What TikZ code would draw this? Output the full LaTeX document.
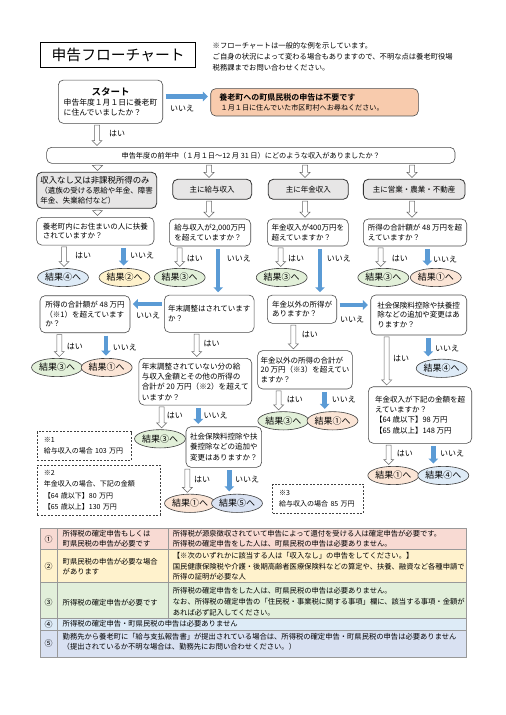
\documentclass[tikz,border=0pt]{standalone}
\usepackage{fontspec}
\setmainfont{Noto Sans CJK JP}[BoldFont={Noto Sans CJK JP Bold}]
\usetikzlibrary{shapes.geometric,arrows.meta,calc}

\definecolor{noblue}{HTML}{5B9BD5}
\definecolor{orangebox}{HTML}{F8CBAD}
\definecolor{catgray}{HTML}{E7E6E6}
\definecolor{res1}{HTML}{FBE5D6}
\definecolor{res2}{HTML}{FFF2CC}
\definecolor{res3}{HTML}{E2F0D9}
\definecolor{res4}{HTML}{DEEBF7}
\definecolor{res5}{HTML}{DAE3F3}
\definecolor{tab1}{HTML}{F8DAD3}
\definecolor{tab2}{HTML}{FFF2CC}
\definecolor{tab3}{HTML}{E2EFDA}
\definecolor{tab4}{HTML}{DDEBF7}
\definecolor{tab5}{HTML}{D9E1F2}

\newcommand\setfs[2]{\fontsize{#1pt}{#2pt}\selectfont}
\newcommand\yesarrow[2]{%
  \draw[yesarr] let \p1=(#1), \p2=(#2) in
    (\x1-2.5pt,\y1-1.5pt) -- (\x1+2.5pt,\y1-1.5pt) -- (\x1+2.5pt,\y2+6.5pt)
    -- (\x1+5pt,\y2+6.5pt) -- (\x1,\y2+1.5pt) -- (\x1-5pt,\y2+6.5pt)
    -- (\x1-2.5pt,\y2+6.5pt) -- cycle;}

\tikzset{
    qbox/.style={draw=black!70, line width=0.6pt, rounded corners=5pt, fill=white,
        align=left, inner xsep=3pt, inner ysep=0pt, font=\setfs{7.5}{9.6}},
    catbox/.style={qbox, fill=catgray, draw=black!80, line width=0.8pt},
    result/.style={ellipse, draw=black!75, line width=0.6pt, minimum width=47pt,
        minimum height=18.3pt, inner sep=0pt, font=\setfs{9}{10}},
    notebox/.style={draw=black!75, dash pattern=on 2pt off 1.5pt, line width=0.6pt,
        align=left, inner xsep=6.5pt, inner ysep=0pt, font=\setfs{7}{11.5}},
    yesarr/.style={draw=black!60, fill=white, line width=0.5pt},
    noarr/.style={draw=noblue, line width=4.5pt, -{Triangle[length=5pt,width=9.5pt]},
        shorten <=2.5pt, shorten >=2.5pt},
    lbl/.style={anchor=west, inner sep=0pt, font=\setfs{8}{9}},
    tline/.style={draw=black!40, line width=0.5pt},
    tcell/.style={anchor=west, inner sep=0pt, align=left, font=\setfs{7.3}{10}},
    tnum/.style={inner sep=0pt, font=\setfs{8}{9}},
}

\begin{document}
\begin{tikzpicture}[x=1pt, y=-1pt]
        \useasboundingbox (0,0) rectangle (506,715);

        \node[draw, line width=0.8pt, minimum width=155pt, minimum height=25.4pt, inner sep=0pt,
            font=\setfs{14.8}{16}] (title) at (118.2,55) {申告フローチャート};
        \node[anchor=north west, inner sep=0pt, align=left, font=\setfs{7.3}{11}] (note) at (212.5,42.4)
            {※フローチャートは一般的な例を示しています。\\
             ご自身の状況によって変わる場合もありますので、不明な点は養老町役場\\
             税務課までお問い合わせください。};

        \node[qbox, minimum width=104.4pt, minimum height=43.3pt, font=\setfs{7.8}{10.3}] (start) at (110.5,101.7)
            {\makebox[93.6pt]{\bfseries\setfs{9.5}{11}スタート}\\申告年度１月１日に養老町\\に住んでいましたか？};
        \node[qbox, fill=orangebox, text width=190.4pt, inner xsep=8.6pt, minimum height=27.3pt,
            font=\setfs{7.1}{10.5}] (orange) at (314.5,102.3)
            {{\bfseries\setfs{8}{10.5}養老町への町県民税の申告は不要です}\\\hspace{1.4pt}１月１日に住んでいた市区町村へお尋ねください。};
        \draw[noarr] ([yshift=5.2pt]start.east) -- ([yshift=5.2pt]start.east -| orange.west);
        \node[lbl] (startno) at (170,109) {いいえ};

        \node[qbox, minimum width=408.3pt, minimum height=16pt, font=\setfs{7.2}{9}] (wide) at (250.8,155.3)
            {申告年度の前年中（１月１日～12 月 31 日）にどのような収入がありましたか？};
        \yesarrow{[xshift=-13.5pt]start.south}{wide.north}
        \node[lbl] (startyes) at (109,134) {はい};

        \node[catbox, minimum width=120pt, minimum height=36pt, inner xsep=2.5pt] (cat1) at (96.7,190.3)
            {{\setfs{8.4}{10.5}収入なし又は非課税所得のみ}\\（遺族の受ける恩給や年金、障害\\年金、失業給付など）};
        \node[catbox, minimum width=79pt, minimum height=20pt] (cat2) at (212.2,189.3) {主に給与収入};
        \node[catbox, minimum width=80pt, minimum height=20pt] (cat3) at (308.3,189.3) {主に年金収入};
        \node[catbox, minimum width=101.7pt, minimum height=20pt] (cat4) at (414.2,189.3) {主に営業・農業・不動産};
        \yesarrow{[xshift=0.8pt]cat1.north |- wide.south}{cat1.north}
        \yesarrow{[xshift=-3.2pt]cat2.north |- wide.south}{cat2.north}
        \yesarrow{[xshift=-3.3pt]cat3.north |- wide.south}{cat3.north}
        \yesarrow{[xshift=-2.2pt]cat4.north |- wide.south}{cat4.north}

        \node[qbox, minimum width=117.3pt, minimum height=27.7pt] (q1) at (95.3,231.2)
            {養老町内にお住まいの人に扶養\\されていますか？};
        \node[qbox, minimum width=81.4pt, minimum height=27pt] (q2) at (210,232.5)
            {給与収入が2,000万円\\を超えていますか？};
        \node[qbox, minimum width=81pt, minimum height=27pt] (q3) at (307.8,232.5)
            {年金収入が400万円を\\超えていますか？};
        \node[qbox, minimum width=103.4pt, minimum height=27pt] (q4) at (415,232.5)
            {所得の合計額が 48 万円を超\\えていますか？};
        \yesarrow{[xshift=0.8pt]cat1.south}{q1.north}
        \yesarrow{[xshift=-3.2pt]cat2.south}{q2.north}
        \yesarrow{[xshift=-3.3pt]cat3.south}{q3.north}
        \yesarrow{[xshift=-2.2pt]cat4.south}{q4.north}

        \node[result, fill=res4] (r4a) at (63,277.5) {結果④へ};
        \node[result, fill=res2] (r2a) at (124.5,277.5) {結果②へ};
        \node[result, fill=res3] (r3a) at (179.7,277.5) {結果③へ};
        \node[result, fill=res3] (r3b) at (281.7,277.5) {結果③へ};
        \node[result, fill=res3] (r3c) at (383.3,277.5) {結果③へ};
        \node[result, fill=res1] (r1a) at (435.8,277.5) {結果①へ};

        \node[qbox, minimum width=90pt, minimum height=37pt] (a) at (85,314.2)
            {所得の合計額が 48 万円\\（※1）を超えています\\か？};
        \node[qbox, minimum width=89.7pt, minimum height=37.3pt] (b) at (209.2,313.7)
            {年末調整はされています\\か？};
        \node[qbox, minimum width=69.4pt, minimum height=28.3pt] (c) at (302,309.2)
            {年金以外の所得が\\ありますか？};
        \node[qbox, minimum width=96pt, minimum height=40pt] (d) at (418.7,315)
            {社会保険料控除や扶養控\\除などの追加や変更はあ\\りますか？};

        \yesarrow{[xshift=1pt]r4a.north |- q1.south}{r4a.north}
        \draw[noarr] ([xshift=-0.8pt]r2a.north |- q1.south) -- ([xshift=-0.8pt]r2a.north);
        \node[lbl] (q1yes) at (75,255.5) {はい};
        \node[lbl] (q1no) at (130,256) {いいえ};
        \yesarrow{r3a.north |- q2.south}{r3a.north}
        \draw[noarr] ([xshift=9pt]b.north |- q2.south) -- ([xshift=9pt]b.north);
        \node[lbl] (q2yes) at (186.7,258.3) {はい};
        \node[lbl] (q2no) at (226.7,258.3) {いいえ};
        \yesarrow{[xshift=-1pt]r3b.north |- q3.south}{r3b.north}
        \draw[noarr] ([xshift=18pt]c.north |- q3.south) -- ([xshift=18pt]c.north);
        \node[lbl] (q3yes) at (288,258.3) {はい};
        \node[lbl] (q3no) at (326.7,258.3) {いいえ};
        \yesarrow{[xshift=-2.6pt]r3c.north |- q4.south}{r3c.north}
        \draw[noarr] ([xshift=-8.5pt]r1a.north |- q4.south) -- ([xshift=-8.5pt]r1a.north);
        \node[lbl] (q4yes) at (391.7,258.3) {はい};
        \node[lbl] (q4no) at (433,259.3) {いいえ};

        \draw[noarr] ([yshift=9.7pt]b.west) -- ([yshift=9.7pt]b.west -| a.east);
        \node[lbl] (bno) at (136,315.7) {いいえ};
        \draw[noarr] ([yshift=4.2pt]c.east) -- ([yshift=4.2pt]c.east -| d.west);
        \node[lbl] (cno) at (340,320) {いいえ};

        \node[result, fill=res3] (r3d) at (57,367.5) {結果③へ};
        \node[result, fill=res1] (r1b) at (106.7,367.5) {結果①へ};
        \node[result, fill=res4] (r4b) at (441.7,368.3) {結果④へ};
        \yesarrow{[xshift=2.3pt]r3d.north |- a.south}{r3d.north}
        \draw[noarr] ([xshift=-0.7pt]r1b.north |- a.south) -- ([xshift=-0.7pt]r1b.north);
        \node[lbl] (ayes) at (66.7,346.7) {はい};
        \node[lbl] (ano) at (112.7,347.3) {いいえ};

        \node[qbox, minimum width=110.7pt, minimum height=46.7pt, font=\setfs{7.6}{10.2}] (e) at (195.3,381.7)
            {年末調整されていない分の給\\与収入金額とその他の所得の\\合計が 20 万円（※2）を超えて\\いますか？};
        \node[qbox, minimum width=93.4pt, minimum height=38.3pt] (f) at (305,369.8)
            {年金以外の所得の合計が\\20 万円（※3）を超えてい\\ますか？};
        \node[qbox, minimum width=103.4pt, minimum height=56.6pt, font=\setfs{7.5}{10.1}] (g) at (420,415)
            {年金収入が下記の金額を超\\えていますか？\\【64 歳以下】98 万円\\【65 歳以上】148 万円};
        \yesarrow{[xshift=1.4pt]e.north |- b.south}{e.north}
        \node[lbl] (byes) at (203.3,343.3) {はい};
        \yesarrow{[xshift=-11.7pt]f.north |- c.south}{f.north}
        \node[lbl] (cyes) at (301.7,334.3) {はい};
        \yesarrow{[xshift=-33.3pt]g.north |- d.south}{g.north}
        \draw[noarr] ([xshift=-13.4pt]r4b.north |- d.south) -- ([xshift=-13.4pt]r4b.north);
        \node[lbl] (dyes) at (393,358.3) {はい};
        \node[lbl] (dno) at (435,348.3) {いいえ};

        \node[result, fill=res3] (r3e) at (160,438.8) {結果③へ};
        \node[qbox, minimum width=75.7pt, minimum height=40.6pt, font=\setfs{7.5}{10.8}] (h) at (223.8,447)
            {社会保険料控除や扶\\養控除などの追加や\\変更はありますか？};
        \yesarrow{[xshift=1.7pt]r3e.north |- e.south}{r3e.north}
        \draw[noarr] ([xshift=-25.5pt]h.north |- e.south) -- ([xshift=-25.5pt]h.north);
        \node[lbl] (eyes) at (166.7,416) {はい};
        \node[lbl] (eno) at (203.3,416) {いいえ};

        \node[result, fill=res3] (r3f) at (283.3,420.8) {結果③へ};
        \node[result, fill=res1] (r1d) at (332.5,420.8) {結果①へ};
        \yesarrow{[xshift=-4.6pt]r3f.north |- f.south}{r3f.north}
        \draw[noarr] ([xshift=-7.8pt]r1d.north |- f.south) -- ([xshift=-7.8pt]r1d.north);
        \node[lbl] (fyes) at (286.7,399.3) {はい};
        \node[lbl] (fno) at (331.7,400) {いいえ};

        \node[result, fill=res1] (r1e) at (393.3,475.5) {結果①へ};
        \node[result, fill=res4] (r4c) at (443.3,475.5) {結果④へ};
        \yesarrow{[xshift=-4.6pt]r1e.north |- g.south}{r1e.north}
        \draw[noarr] ([xshift=-10pt]r4c.north |- g.south) -- ([xshift=-10pt]r4c.north);
        \node[lbl] (gyes) at (396.7,453.3) {はい};
        \node[lbl] (gno) at (440,453.3) {いいえ};

        \node[result, fill=res1] (r1c) at (190,503.3) {結果①へ};
        \node[result, fill=res5] (r5) at (237,503.3) {結果⑤へ};
        \yesarrow{[xshift=-2.7pt]r1c.north |- h.south}{r1c.north}
        \draw[noarr] ([xshift=-7.7pt]r5.north |- h.south) -- ([xshift=-7.7pt]r5.north);
        \node[lbl] (hyes) at (194,479.3) {はい};
        \node[lbl] (hno) at (235,479.3) {いいえ};

        \node[notebox, text width=81.4pt, minimum height=28.3pt] (n1) at (84.5,445.8)
            {※1\\\mbox{給与収入の場合 103 万円}};
        \node[notebox, text width=109.7pt, minimum height=50pt] (n2) at (98.7,490)
            {※2\\年金収入の場合、下記の金額\\\mbox{【64 歳以下】80 万円}\\\mbox{【65 歳以上】130 万円}};
        \node[notebox, text width=77.6pt, minimum height=29.3pt] (n3) at (318,498.7)
            {※3\\\mbox{給与収入の場合 85 万円}};

        \fill[tab1] (40,528) rectangle (466,549.5);
        \fill[tab2] (40,549.5) rectangle (466,582);
        \fill[tab3] (40,582) rectangle (466,618.5);
        \fill[tab4] (40,618.5) rectangle (466,629.8);
        \fill[tab5] (40,629.8) rectangle (466,657.7);
        \draw[tline] (40,528) rectangle (466,657.7);
        \draw[tline] (40,549.5) -- (466,549.5);
        \draw[tline] (40,582) -- (466,582);
        \draw[tline] (40,618.5) -- (466,618.5);
        \draw[tline] (40,629.8) -- (466,629.8);
        \draw[tline] (57.5,528) -- (57.5,657.7);
        \draw[tline] (168.3,528) -- (168.3,618.5);

        \node[tnum] (k1) at (48.7,539) {①};
        \node[tcell] (k1a) at (62.5,539) {所得税の確定申告もしくは\\町県民税の申告が必要です};
        \node[tcell] (k1b) at (172.7,539)
            {所得税が源泉徴収されていて申告によって還付を受ける人は確定申告が必要です。\\
             所得税の確定申告をした人は、町県民税の申告は必要ありません。};
        \node[tnum] (k2) at (48.7,566) {②};
        \node[tcell] (k2a) at (62.5,566.5) {町県民税の申告が必要な場合\\があります};
        \node[tcell, font=\setfs{7.3}{10.3}] (k2b) at (172.7,566.4)
            {【※次のいずれかに該当する人は「収入なし」の申告をしてください。】\\
             国民健康保険税や介護・後期高齢者医療保険料などの算定や、扶養、融資など各種申請で\\
             所得の証明が必要な人};
        \node[tnum] (k3) at (48.7,602) {③};
        \node[tcell] (k3a) at (62.5,602.5) {所得税の確定申告が必要です};
        \node[tcell, font=\setfs{7.3}{10.8}] (k3b) at (172.7,601.5)
            {所得税の確定申告をした人は、町県民税の申告は必要ありません。\\
             なお、所得税の確定申告の「住民税・事業税に関する事項」欄に、該当する事項・金額が\\
             あれば必ず記入してください。};
        \node[tnum] (k4) at (48.7,624.2) {④};
        \node[tcell] (k4a) at (62.5,624.2) {所得税の確定申告・町県民税の申告は必要ありません};
        \node[tnum] (k5) at (48.7,643.8) {⑤};
        \node[tcell] (k5a) at (62.5,641.7)
            {勤務先から養老町に「給与支払報告書」が提出されている場合は、所得税の確定申告・町県民税の申告は必要ありません\\
             （提出されているか不明な場合は、勤務先にお問い合わせください。）};
    \end{tikzpicture}
\end{document}
